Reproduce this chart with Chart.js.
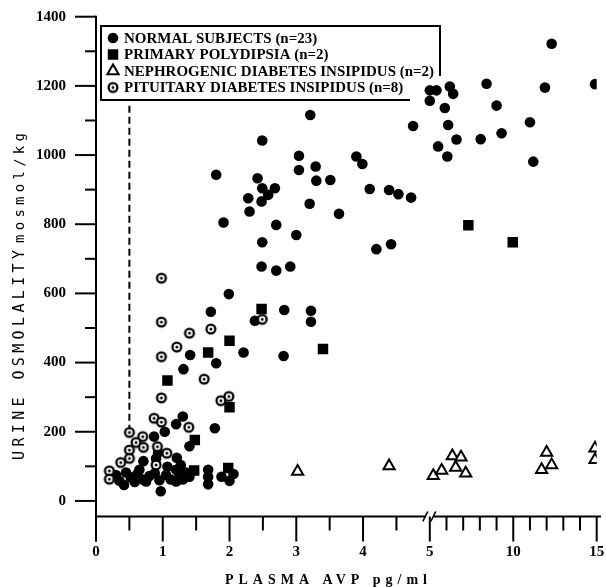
<!DOCTYPE html>
<html><head><meta charset="utf-8">
<script src="https://cdn.jsdelivr.net/npm/chart.js@4.4.1/dist/chart.umd.min.js"></script>
<style>html,body{margin:0;padding:0;background:#fff}canvas{display:block}</style>
</head><body>
<canvas id="c" width="606" height="587"></canvas>
<script>
// ---------- DATA ----------
const seriesLabels = [
  'NORMAL SUBJECTS (n=23)',
  'PRIMARY POLYDIPSIA (n=2)',
  'NEPHROGENIC DIABETES INSIPIDUS (n=2)',
  'PITUITARY DIABETES INSIPIDUS (n=8)'
];
const xTickValues = [0, 1, 2, 3, 4, 5, 10, 15];
const xMinorTickValues = [0.5, 1.5, 2.5, 3.5, 4.5, 6, 7, 8, 9, 11, 12, 13, 14];
const yTickValues = [0, 200, 400, 600, 800, 1000, 1200, 1400];
const yMinorTickValues = [100, 300, 500, 700, 900, 1100, 1300];
const xTitle = 'PLASMA AVP pg/ml';
const yTitleMain = 'URINE OSMOLALITY';
const yTitleUnit = 'mosmol/kg';

const normalAvp = [3.21,2.49,4.75,5.5,5.0,1.80,3.04,3.04,3.29,3.30,3.51,2.42,2.49,2.68,2.58,2.28,2.48,2.30,3.20,3.64,3.90,3.99,4.10,4.39,4.53,4.72,1.91,2.70,3.00,2.49,4.20,4.42,2.48,2.70,2.91,1.99,1.72,2.82,3.22,3.22,2.38,2.21,2.81,1.80,1.41,1.31,
  12.3,8.4,11.9,14.9,5.0,5.4,6.2,6.4,5.9,9.0,6.1,11.0,6.6,8.05,9.3,6.05,11.2,
  1.30,1.20,1.03,0.87,1.78,1.40,0.93,0.90,0.71,1.21,1.27,0.65,1.07,0.30,0.35,0.42,0.45,0.52,0.58,0.62,0.70,0.75,0.80,0.88,0.95,0.97,1.05,1.12,1.20,1.25,1.30,1.35,1.40,1.20,1.68,1.68,1.68,1.88,2.0,2.06];
const normalOsm = [1116,1042,1084,1025,1157,943,998,957,967,926,928,933,904,904,885,875,866,837,859,830,996,974,902,899,887,877,805,798,769,748,728,742,678,666,678,598,547,552,550,518,521,429,419,398,422,381,
  1322,1206,1195,1205,1187,1187,1198,1177,1136,1143,1087,1095,1045,1046,1063,996,981,
  244,222,200,186,210,158,140,123,115,125,104,90,99,75,58,46,82,68,55,78,62,56,72,80,60,28,75,62,56,78,62,82,70,90,90,70,48,70,58,78];
const polydipsiaAvp = [1.07,1.48,1.47,1.68,1.98,2.0,2.0,2.48,3.40,7.31,9.97];
const polydipsiaOsm = [348,176,88,429,95,271,463,555,439,797,748];
const nephroAvp = [3.02,4.39,5.21,5.71,6.35,6.87,6.55,7.15,12.0,12.3,11.7,14.9,14.9];
const nephroOsm = [85,101,73,88,130,126,97,80,140,104,90,152,119];
const pituitaryAvp = [0.98,0.98,1.40,1.72,1.21,0.98,1.62,0.98,1.99,1.87,2.49,0.87,0.98,1.39,0.50,0.70,0.60,0.71,0.92,0.50,1.06,0.50,0.37,0.90,0.20,0.20];
const pituitaryOsm = [644,517,485,497,445,417,352,298,302,290,525,239,228,213,198,186,169,155,157,147,138,123,111,104,87,63];
const thresholdAvp = [0.5, 0.5];
const thresholdOsm = [200, 1145];

// broken axis: linear 0-5, then compressed x4 from 5 to 15
function tx(v){ return v <= 5 ? v : 5 + (v - 5) / 4; }
function pts(xs, ys){ return xs.map((v, i) => ({x: tx(v), y: ys[i]})); }

function makeBullseye(){
  const s = 14, c = document.createElement('canvas');
  c.width = s; c.height = s;
  const g = c.getContext('2d');
  g.beginPath(); g.arc(s/2, s/2, 4.4, 0, Math.PI*2);
  g.fillStyle = '#fff'; g.fill();
  g.lineWidth = 2.3; g.strokeStyle = '#000'; g.stroke();
  g.beginPath(); g.arc(s/2, s/2, 1.5, 0, Math.PI*2);
  g.fillStyle = '#000'; g.fill();
  return c;
}
const bullseye = makeBullseye();

const serif = '"Liberation Serif", "DejaVu Serif", serif';

const paperPlugin = {
  id: 'paper',
  beforeDatasetsDraw(chart){
    const {ctx, chartArea: ca, scales: {x, y}} = chart;
    ctx.save();
    ctx.strokeStyle = '#000'; ctx.lineWidth = 2; ctx.lineCap = 'butt';
    const L = ca.left, B = ca.bottom;
    // y axis line
    ctx.beginPath(); ctx.moveTo(L, y.getPixelForValue(1400) - 1); ctx.lineTo(L, B + 25); ctx.stroke();
    yTickValues.forEach(v => { const p = y.getPixelForValue(v); ctx.beginPath(); ctx.moveTo(L - 21, p); ctx.lineTo(L, p); ctx.stroke(); });
    yMinorTickValues.forEach(v => { const p = y.getPixelForValue(v); ctx.beginPath(); ctx.moveTo(L - 11, p); ctx.lineTo(L, p); ctx.stroke(); });
    // x axis with break at 5
    const p5 = x.getPixelForValue(5);
    ctx.beginPath(); ctx.moveTo(L, B); ctx.lineTo(p5 - 4, B); ctx.stroke();
    ctx.beginPath(); ctx.moveTo(p5 + 4, B); ctx.lineTo(chart.width - 5, B); ctx.stroke();
    ctx.lineWidth = 1.6;
    ctx.beginPath(); ctx.moveTo(p5 - 7, B + 5); ctx.lineTo(p5 - 2, B - 5); ctx.stroke();
    ctx.beginPath(); ctx.moveTo(p5 + 1, B + 5); ctx.lineTo(p5 + 6, B - 5); ctx.stroke();
    ctx.lineWidth = 2;
    xTickValues.forEach(v => { const p = x.getPixelForValue(tx(v)); ctx.beginPath(); ctx.moveTo(p, B); ctx.lineTo(p, B + 25); ctx.stroke(); });
    xMinorTickValues.forEach(v => { const p = x.getPixelForValue(tx(v)); ctx.beginPath(); ctx.moveTo(p, B); ctx.lineTo(p, B + 14); ctx.stroke(); });

    // axis titles
    ctx.fillStyle = '#000';
    ctx.textBaseline = 'middle'; ctx.textAlign = 'left';
    ctx.font = 'bold 14px ' + serif;
    ctx.letterSpacing = '0px';
    let w0 = ctx.measureText(xTitle).width;
    let ls = (202 - w0) / (xTitle.length - 1);
    ctx.letterSpacing = ls + 'px';
    ctx.fillText(xTitle, 225, 580);
    ctx.save();
    ctx.translate(20, 460); ctx.rotate(-Math.PI / 2);
    ctx.font = '15px "DejaVu Sans Mono", monospace';
    ctx.letterSpacing = '0px';
    w0 = ctx.measureText(yTitleMain).width;
    ls = (210 - w0) / (yTitleMain.length - 1);
    ctx.letterSpacing = ls + 'px';
    ctx.fillText(yTitleMain, 0, 0);
    ctx.font = '14px "DejaVu Sans Mono", monospace';
    ctx.letterSpacing = '0px';
    w0 = ctx.measureText(yTitleUnit).width;
    ls = (110 - w0) / (yTitleUnit.length - 1);
    ctx.letterSpacing = ls + 'px';
    ctx.fillText(yTitleUnit, 217, 0);
    ctx.restore();
    ctx.letterSpacing = '0px';

    // legend (drawn under the data marks, as in the original)
    ctx.strokeStyle = '#000'; ctx.lineWidth = 2;
    ctx.beginPath();
    ctx.moveTo(440, 76); ctx.lineTo(440, 26); ctx.lineTo(101, 26); ctx.lineTo(101, 100); ctx.lineTo(410, 100);
    ctx.stroke();
    ctx.font = 'bold 13px ' + serif;
    const wRef = ctx.measureText(seriesLabels[2]).width;
    const fs = 13 * 310 / wRef;
    ctx.font = 'bold ' + fs.toFixed(2) + 'px ' + serif;
    ctx.textBaseline = 'middle'; ctx.textAlign = 'left';
    const rows = [38, 54.5, 71, 87.5];
    for (let i = 0; i < 4; i++) {
      const ds = chart.data.datasets[i];
      ctx.fillStyle = ds.backgroundColor; ctx.strokeStyle = ds.borderColor;
      ctx.lineWidth = ds.borderWidth;
      Chart.helpers.drawPoint(ctx, {pointStyle: ds.pointStyle, radius: ds.pointRadius, borderWidth: ds.borderWidth, rotation: 0}, 113, rows[i]);
      ctx.fillStyle = '#000';
      ctx.fillText(seriesLabels[i], 124, rows[i] + 1);
    }
    ctx.restore();
  }
};

new Chart(document.getElementById('c'), {
  type: 'scatter',
  data: {
    datasets: [
      {label: seriesLabels[0], data: pts(normalAvp, normalOsm), pointStyle: 'circle', pointRadius: 5.3, backgroundColor: '#000', borderColor: '#000', borderWidth: 0, order: 3},
      {label: seriesLabels[1], data: pts(polydipsiaAvp, polydipsiaOsm), pointStyle: 'rect', pointRadius: 7.4, backgroundColor: '#000', borderColor: '#000', borderWidth: 0, order: 2},
      {label: seriesLabels[2], data: pts(nephroAvp, nephroOsm), pointStyle: 'triangle', pointRadius: 6.5, backgroundColor: '#fff', borderColor: '#000', borderWidth: 2, order: 1},
      {label: seriesLabels[3], data: pts(pituitaryAvp, pituitaryOsm), pointStyle: bullseye, pointRadius: 7, backgroundColor: '#fff', borderColor: '#000', borderWidth: 0, order: 0},
      {type: 'line', label: 'threshold', data: pts(thresholdAvp, thresholdOsm), borderColor: '#000', borderWidth: 2, borderDash: [7, 4], pointRadius: 0, fill: false, order: 5}
    ]
  },
  options: {
    responsive: false,
    animation: false,
    events: [],
    layout: {padding: {left: 0, top: 16.7, right: 9.3, bottom: 0}},
    plugins: {legend: {display: false}, tooltip: {enabled: false}},
    scales: {
      x: {
        type: 'linear', min: 0, max: 7.5,
        grid: {display: false, drawTicks: false}, border: {display: false},
        afterBuildTicks: s => { s.ticks = xTickValues.map(v => ({value: tx(v)})); },
        afterFit: s => { s.height = 70.5; s.paddingLeft = 0; s.paddingRight = 0; },
        ticks: {
          padding: 26.5, color: '#000', maxRotation: 0, autoSkip: false,
          font: {family: serif, size: 15, weight: 'bold'},
          callback: (val, i) => String(xTickValues[i])
        }
      },
      y: {
        type: 'linear', min: -45, max: 1400,
        grid: {display: false, drawTicks: false}, border: {display: false},
        afterBuildTicks: s => { s.ticks = yTickValues.map(v => ({value: v})); },
        afterFit: s => { s.width = 96; s.paddingTop = 0; s.paddingBottom = 0; },
        ticks: {
          padding: 30, color: '#000',
          font: {family: serif, size: 15, weight: 'bold'},
          callback: (val) => String(val)
        }
      }
    }
  },
  plugins: [paperPlugin]
});
</script>
</body></html>
